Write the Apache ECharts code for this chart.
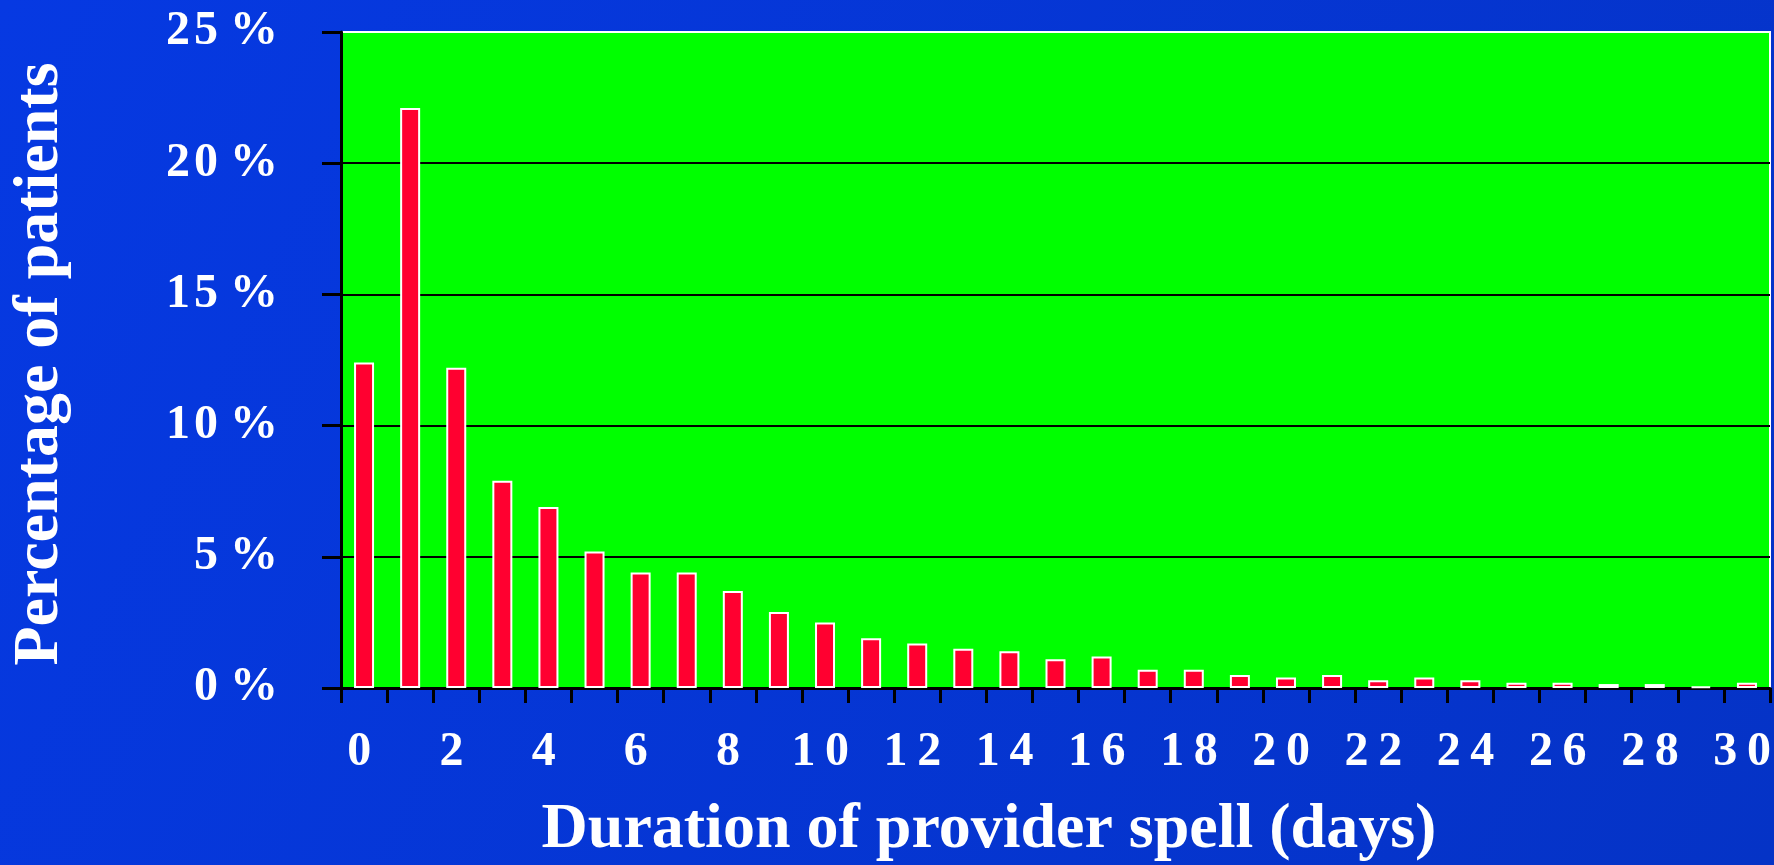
<!DOCTYPE html>
<html>
<head>
<meta charset="utf-8">
<title>Duration of provider spell</title>
<script src="https://cdn.jsdelivr.net/npm/echarts@6/dist/echarts.min.js"></script>
<style>
  html, body { margin: 0; padding: 0; width: 100%; height: 100%; overflow: hidden; }
  #chart { width: 1774px; height: 865px; }
</style>
</head>
<body>
<div id="chart"></div>
<script>
// Length of stay in days (0..30) and share of patients (%) for each day
const days = ['0','1','2','3','4','5','6','7','8','9','10','11','12','13','14','15',
              '16','17','18','19','20','21','22','23','24','25','26','27','28','29','30'];
const percentPatients = [12.4, 22.1, 12.2, 7.9, 6.9, 5.2, 4.4, 4.4, 3.7, 2.9, 2.5,
                         1.9, 1.7, 1.5, 1.4, 1.1, 1.2, 0.7, 0.7, 0.5, 0.4, 0.5,
                         0.3, 0.4, 0.3, 0.2, 0.2, 0.15, 0.15, 0.05, 0.2];
const yTicks = { min: 0, max: 25, interval: 5 };
const xTitle = 'Duration of provider spell (days)';
const yTitle = 'Percentage of patients';

const SERIF = '"Liberation Serif", "Times New Roman", serif';
const THIN = '\u2009';
const HAIR = '\u200A';

const chart = echarts.init(document.getElementById('chart'), null, { renderer: 'canvas' });

chart.setOption({
  animation: false,
  backgroundColor: {
    type: 'linear', x: 0, y: 0, x2: 1, y2: 1,
    colorStops: [
      { offset: 0, color: '#0639E2' },
      { offset: 1, color: '#0533C6' }
    ]
  },
  grid: {
    left: 341, right: 4, top: 32, bottom: 177,
    outerBoundsMode: 'none',
    containLabel: false,
    show: true,
    backgroundColor: '#00FF00',
    borderColor: '#FFFFFF',
    borderWidth: 2
  },
  xAxis: {
    type: 'category',
    data: days,
    boundaryGap: true,
    axisLine: { show: true, lineStyle: { color: '#000000', width: 3 } },
    axisTick: { show: true, interval: 0, length: 15, lineStyle: { color: '#000000', width: 3 } },
    axisLabel: {
      interval: 1,
      margin: 41,
      color: '#FFFFFF',
      fontFamily: SERIF,
      fontWeight: 'bold',
      fontSize: 48,
      formatter: v => v.split('').join(THIN) + THIN
    },
    splitLine: { show: false }
  },
  yAxis: {
    type: 'value',
    min: yTicks.min,
    max: yTicks.max,
    interval: yTicks.interval,
    axisLine: { show: true, lineStyle: { color: '#000000', width: 3 } },
    axisTick: { show: true, length: 19, lineStyle: { color: '#000000', width: 3 } },
    axisLabel: {
      margin: 63,
      color: '#FFFFFF',
      fontFamily: SERIF,
      fontWeight: 'bold',
      fontSize: 48,
      formatter: v => String(v).split('').join(HAIR) + ' %'
    },
    splitLine: {
      show: true,
      lineStyle: {
        color: ['#000000', '#000000', '#000000', '#000000', '#000000', '#FFFFFF'],
        width: 2
      }
    }
  },
  series: [{
    type: 'bar',
    data: percentPatients,
    barWidth: 20,
    itemStyle: {
      color: '#FF0030',
      borderColor: '#FFFFFF',
      borderWidth: 2
    }
  }],
  graphic: [
    {
      type: 'text',
      x: 989,
      y: 830,
      style: {
        text: xTitle,
        fill: '#FFFFFF',
        font: 'bold 64px ' + SERIF,
        align: 'center',
        verticalAlign: 'middle'
      }
    },
    {
      type: 'text',
      x: 40,
      y: 364,
      rotation: Math.PI / 2,
      style: {
        text: yTitle,
        fill: '#FFFFFF',
        font: 'bold 64px ' + SERIF,
        align: 'center',
        verticalAlign: 'middle'
      }
    }
  ]
});
</script>
</body>
</html>
